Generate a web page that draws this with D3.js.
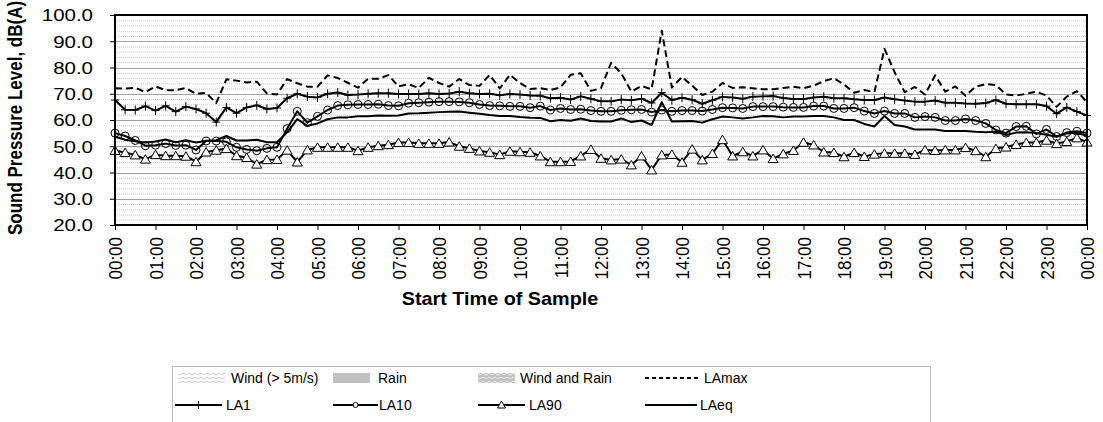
<!DOCTYPE html>
<meta charset="utf-8">
<script src="https://cdn.jsdelivr.net/npm/d3@7"></script>
<style>
body { margin: 0; background: #fff; }
text { font-family: "Liberation Sans", Arial, sans-serif; fill: #000; }
.grid-major line { stroke: #a0a0a0; stroke-width: 1px; }
.grid-minor line { stroke: #c8c8c8; stroke-width: 1px; stroke-dasharray: 1,1; }
.axis path { display: none; }
.axis line { stroke: #000; }
</style>
<body>
<script>

// 15 minute samples, 00:00 to 00:00 next day (97 samples)
var hourLabels = ["00:00","01:00","02:00","03:00","04:00","05:00","06:00","07:00","08:00","09:00",
  "10:00","11:00","12:00","13:00","14:00","15:00","16:00","17:00","18:00","19:00",
  "20:00","21:00","22:00","23:00","00:00"];

var laMax = [72.1,72.0,72.3,70.6,72.8,71.3,71.4,72.2,70.0,70.3,66.5,75.5,75.0,74.3,74.6,70.1,69.7,
  75.6,74.0,72.7,72.7,77.0,76.0,74.2,72.3,75.7,75.7,77.1,72.8,73.6,72.2,76.1,74.1,72.7,75.6,73.3,
  73.0,77.2,72.0,77.2,74.1,71.8,72.1,71.4,72.4,77.2,77.8,71.1,72.1,81.8,77.8,70.8,73.0,71.7,94.0,
  72.4,76.4,73.1,69.5,70.8,74.1,72.2,72.5,72.1,71.7,71.7,72.2,72.7,72.1,73.1,74.8,75.9,73.5,70.4,
  71.4,70.6,87.1,78.2,70.6,72.6,69.7,77.0,70.8,72.8,69.2,72.7,73.7,73.3,69.7,69.3,70.0,70.8,69.3,
  65.0,68.9,71.0,66.8];

var la1 = [67.6,63.9,63.8,65.3,63.6,65.4,63.2,65.1,64.2,62.6,59.2,64.8,62.6,64.8,65.6,64.2,64.6,
  68.3,70.0,68.9,68.6,70.0,70.5,69.5,69.7,70.0,70.2,70.2,69.9,69.9,69.9,70.2,69.9,70.1,70.8,70.2,
  69.9,70.0,69.4,69.9,69.7,69.3,69.2,68.3,68.5,67.8,69.0,68.1,67.1,67.1,67.8,67.5,68.1,66.5,70.4,
  67.6,68.5,67.7,66.2,67.5,68.8,68.6,68.1,68.9,69.0,69.1,68.4,68.0,68.0,68.6,68.9,68.3,68.3,67.9,
  67.6,67.6,68.6,67.9,67.4,67.0,67.0,67.4,66.6,66.6,66.3,66.2,66.5,67.6,66.2,66.0,66.0,66.0,65.3,
  62.4,64.8,63.2,61.7];

var la10 = [55.0,53.9,52.2,50.2,50.4,51.0,50.3,50.4,48.6,52.0,52.0,51.7,49.6,48.8,48.3,49.2,49.6,
  56.7,63.3,59.0,61.4,63.8,65.5,65.8,65.9,65.9,66.0,65.5,65.4,66.4,66.6,66.8,67.0,67.0,66.9,66.6,
  65.9,65.5,65.4,65.2,65.2,64.7,65.3,63.8,64.4,64.0,64.1,63.6,63.3,63.3,63.7,63.9,64.0,63.0,63.8,
  63.3,63.6,63.6,63.4,64.0,64.7,64.6,64.4,65.1,65.1,65.1,64.9,64.8,64.8,65.3,65.3,64.4,64.4,64.7,
  63.4,62.5,63.4,62.5,62.5,61.0,61.3,61.0,59.8,59.8,60.4,59.8,58.7,56.2,55.0,57.5,57.6,54.7,56.4,
  53.7,55.2,55.7,55.0];

var la90 = [48.4,47.6,46.7,45.1,46.8,46.4,46.4,46.2,44.1,47.8,48.5,49.1,46.4,45.7,43.2,44.9,45.0,
  48.5,44.0,48.6,49.6,49.6,49.6,49.6,48.3,49.6,50.2,50.6,51.4,51.4,51.1,51.1,51.1,51.6,50.0,49.2,
  48.2,47.7,46.8,48.1,47.9,47.7,46.3,44.1,44.1,44.2,46.3,48.8,45.4,44.8,45.1,42.9,46.3,41.0,46.7,
  46.9,43.9,48.9,44.8,47.2,52.5,46.3,47.9,46.3,48.6,45.3,47.1,48.4,51.5,50.5,47.8,47.6,46.0,47.6,
  46.1,47.0,47.3,47.3,47.3,46.9,48.6,48.4,48.6,48.6,49.5,48.3,46.0,49.1,49.7,50.7,51.4,51.4,52.3,
  51.0,51.8,53.2,51.6];

var laEq = [53.6,52.5,51.9,51.4,51.8,52.6,51.5,52.3,51.4,52.1,52.3,53.9,52.2,52.2,52.5,51.5,51.5,
  55.3,60.3,57.8,58.7,60.3,61.0,61.0,61.4,61.4,61.7,61.6,61.7,62.5,62.6,62.8,63.0,63.1,63.2,62.8,
  62.4,61.9,61.5,61.5,61.1,60.9,60.8,59.5,60.0,59.7,60.6,59.6,59.4,59.4,60.6,59.2,59.8,58.1,66.8,
  59.4,59.5,59.6,59.0,60.3,61.3,61.0,60.6,61.0,61.5,61.4,61.0,61.3,61.3,61.5,61.5,61.0,60.0,60.0,
  58.5,57.5,61.5,58.1,57.5,56.4,56.4,56.4,55.8,55.8,55.8,55.5,55.3,55.5,54.3,55.2,55.3,55.0,54.4,
  53.6,54.9,55.1,54.0];

var yTicks = [20,30,40,50,60,70,80,90,100];

var width = 1103, height = 422;
var plot = {left: 115, right: 1087, top: 15, bottom: 225};
var stretch = 1.28; // axis labels are drawn a little wider than they are tall

var svg = d3.select("body").append("svg")
    .attr("width", width)
    .attr("height", height);

var defs = svg.append("defs");
// zigzag pattern used by the wind / wind and rain legend swatches
function zigzag(id, color, bg) {
  var p = defs.append("pattern").attr("id", id)
      .attr("patternUnits", "userSpaceOnUse").attr("width", 6).attr("height", 4);
  if (bg) p.append("rect").attr("width", 6).attr("height", 4).attr("fill", bg);
  p.append("path").attr("d", "M0,3 L3,1 L6,3").attr("fill", "none")
      .attr("stroke", color).attr("stroke-width", 1);
}
zigzag("windPat", "#c8c8c8", null);
zigzag("windRainPat", "#f0f0f0", "#c0c0c0");

var x = d3.scaleLinear().domain([0, laMax.length - 1]).range([plot.left, plot.right]);
var y = d3.scaleLinear().domain([20, 100]).range([plot.bottom, plot.top]);

// minor grid every 2 dB
svg.append("g").attr("class", "grid-minor")
  .selectAll("line").data(d3.range(22, 100, 2).filter(function(v) { return v % 10 != 0; }))
  .enter().append("line")
  .attr("x1", plot.left).attr("x2", plot.right)
  .attr("y1", function(d) { return y(d) + 0.5; }).attr("y2", function(d) { return y(d) + 0.5; });

// major grid every 10 dB
svg.append("g").attr("class", "grid-major")
  .selectAll("line").data(yTicks.slice(1, -1))
  .enter().append("line")
  .attr("x1", plot.left).attr("x2", plot.right)
  .attr("y1", function(d) { return Math.round(y(d)) + 0.5; }).attr("y2", function(d) { return Math.round(y(d)) + 0.5; });

// y axis
var yAxis = svg.append("g").attr("class", "axis")
    .attr("transform", "translate(" + plot.left + ",0)")
    .call(d3.axisLeft(y).tickValues(yTicks).tickFormat(d3.format(".1f")).tickSize(5));
yAxis.selectAll("text")
    .style("font-size", "16px")
    .attr("x", 0).attr("dy", "0.36em")
    .attr("transform", "translate(-22,0) scale(" + stretch + ",1)");

// x axis, one tick per hour (every 4 samples)
var xAxis = svg.append("g").attr("class", "axis")
    .attr("transform", "translate(0," + plot.bottom + ")")
    .call(d3.axisBottom(x).tickValues(d3.range(0, 97, 4)).tickSize(5)
      .tickFormat(function(d) { return hourLabels[d / 4]; }));
xAxis.selectAll("text")
    .style("font-size", "17px")
    .style("text-anchor", "end")
    .attr("transform", "scale(1.1,1) rotate(-90)")
    .attr("x", -12).attr("y", 0).attr("dy", "0.36em");

// series
var line = d3.line().x(function(d, i) { return x(i); }).y(function(d) { return y(d); });

function drawLine(data, dash) {
  svg.append("path").datum(data)
    .attr("d", line)
    .attr("fill", "none")
    .attr("stroke", "#000")
    .attr("stroke-width", 2)
    .attr("stroke-linejoin", "round")
    .attr("stroke-dasharray", dash || null);
}

drawLine(laMax, "7,4");
drawLine(la1);
drawLine(la10);
drawLine(la90);
drawLine(laEq);

// markers
svg.append("g").selectAll("path").data(la1).enter().append("path")
  .attr("d", function(d, i) { var cx = x(i), cy = y(d);
    return "M" + (cx - 4) + "," + cy + "H" + (cx + 4) + "M" + cx + "," + (cy - 4.5) + "V" + (cy + 4.5); })
  .attr("stroke", "#000").attr("stroke-width", 1);

svg.append("g").selectAll("circle").data(la10).enter().append("circle")
  .attr("cx", function(d, i) { return x(i); })
  .attr("cy", function(d) { return y(d); })
  .attr("r", 4).attr("fill", "none").attr("stroke", "#000").attr("stroke-width", 1);

svg.append("g").selectAll("path").data(la90).enter().append("path")
  .attr("d", function(d, i) { var cx = x(i), cy = y(d);
    return "M" + cx + "," + (cy - 4.5) + "L" + (cx + 5) + "," + (cy + 4) + "L" + (cx - 5) + "," + (cy + 4) + "Z"; })
  .attr("fill", "#fff").attr("stroke", "#000").attr("stroke-width", 1);

// plot border
svg.append("rect")
  .attr("x", plot.left).attr("y", plot.top)
  .attr("width", plot.right - plot.left).attr("height", plot.bottom - plot.top)
  .attr("fill", "none").attr("stroke", "#000").attr("stroke-width", 2);

// axis titles
svg.append("text")
  .attr("transform", "translate(22,118) scale(1.2,1) rotate(-90)")
  .attr("text-anchor", "middle")
  .style("font-size", "17px").style("font-weight", "bold")
  .text("Sound Pressure Level, dB(A)");

svg.append("text")
  .attr("transform", "translate(500,305) scale(1.1,1)")
  .attr("text-anchor", "middle")
  .style("font-size", "18px").style("font-weight", "bold")
  .text("Start Time of Sample");

// legend
var legend = svg.append("g");
legend.append("rect")
  .attr("x", 172.5).attr("y", 366.5).attr("width", 758).attr("height", 60)
  .attr("fill", "#fff").attr("stroke", "#c0c0c0").attr("stroke-width", 1);

var legendItems = [
  {name: "Wind (> 5m/s)", type: "wind", col: 0, row: 0},
  {name: "Rain", type: "rain", col: 1, row: 0},
  {name: "Wind and Rain", type: "windrain", col: 2, row: 0},
  {name: "LAmax", type: "dash", col: 3, row: 0},
  {name: "LA1", type: "plus", col: 0, row: 1},
  {name: "LA10", type: "circle", col: 1, row: 1},
  {name: "LA90", type: "tri", col: 2, row: 1},
  {name: "LAeq", type: "line", col: 3, row: 1}
];
var swatchX = [[178, 333, 478, 645], [175, 333, 478, 645]];
var swatchW = [[47, 37, 37, 55], [47, 45, 47, 52]];
var textX = [[231, 378, 520, 704], [226, 379, 529, 700]];

legendItems.forEach(function(it) {
  var gx = swatchX[it.row][it.col], sw = swatchW[it.row][it.col];
  var gy = it.row == 0 ? 378 : 405;
  var g = legend.append("g");
  if (it.type == "wind" || it.type == "rain" || it.type == "windrain") {
    g.append("rect").attr("x", gx).attr("y", gy - 5).attr("width", sw).attr("height", 10)
      .attr("fill", it.type == "rain" ? "#c0c0c0" : it.type == "wind" ? "url(#windPat)" : "url(#windRainPat)");
  } else {
    g.append("line").attr("x1", gx).attr("x2", gx + sw).attr("y1", gy).attr("y2", gy)
      .attr("stroke", "#000").attr("stroke-width", 2)
      .attr("stroke-dasharray", it.type == "dash" ? "4,3" : null);
    var cx = gx + sw / 2;
    if (it.type == "plus")
      g.append("path").attr("d", "M" + cx + "," + (gy - 4) + "V" + (gy + 4)).attr("stroke", "#000");
    if (it.type == "circle")
      g.append("circle").attr("cx", cx).attr("cy", gy).attr("r", 2.5).attr("fill", "#fff").attr("stroke", "#000");
    if (it.type == "tri")
      g.append("path").attr("d", "M" + cx + "," + (gy - 4) + "L" + (cx + 4) + "," + (gy + 3) + "L" + (cx - 4) + "," + (gy + 3) + "Z")
        .attr("fill", "#fff").attr("stroke", "#000");
  }
  g.append("text")
    .attr("x", textX[it.row][it.col]).attr("y", gy)
    .attr("dy", "0.36em")
    .style("font-size", "14px").text(it.name);
});

</script>
</body>
